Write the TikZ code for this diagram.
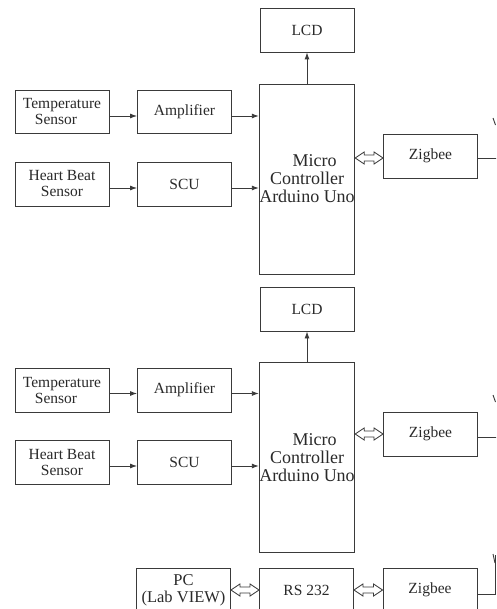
\documentclass[tikz,border=0pt]{standalone}
\usepackage{fontspec}
\setmainfont{Liberation Serif}
\usetikzlibrary{calc,arrows.meta}
\definecolor{ln}{HTML}{3A3A3A}
\definecolor{tx}{HTML}{2A2A2A}
\newcommand{\dblfat}[2]{%
  \draw[fatarr] (#1) -- ($(#1)+(9,-6)$) -- ($(#1)+(9,-3)$) -- ($(#2)+(-9,-3)$) -- ($(#2)+(-9,-6)$) -- (#2)
   -- ($(#2)+(-9,6)$) -- ($(#2)+(-9,3)$) -- ($(#1)+(9,3)$) -- ($(#1)+(9,6)$) -- cycle;}
\tikzset{
  blk/.style={draw=ln, line width=0.9pt, minimum width=94pt, minimum height=44pt, inner sep=0pt,
    align=center, text=tx, font=\fontsize{15.5}{16}\selectfont},
  mcblk/.style={blk, minimum height=190pt, font=\fontsize{18}{18}\selectfont},
  conn/.style={draw=ln, line width=0.9pt, -{Latex[length=7pt,width=5pt]}},
  wire/.style={draw=ln, line width=0.9pt},
  fatarr/.style={draw=ln, line width=0.8pt, fill=white, line join=miter},
}
\begin{document}
\begin{tikzpicture}[x=1pt,y=-1pt]
\useasboundingbox (0,0) rectangle (496,609);
\clip (0,0) rectangle (496,609);
\fill[white] (0,0) rectangle (496,609);
% ---------- block 1 ----------
\node[blk] (lcd1) at (307,30) {LCD};
\node[mcblk] (mc1) at (307,179) {\hspace*{15pt}Micro\\Controller\\Arduino Uno};
\node[blk, minimum height=43pt] (temp1) at (62,111.5) {Temperature\\Sensor\hspace*{12pt}};
\node[blk, minimum height=43pt] (amp1) at (184.5,111.5) {Amplifier};
\node[blk] (heart1) at (62,184) {Heart Beat\\Sensor};
\node[blk] (scu1) at (184.5,184) {SCU};
\node[blk] (zig1) at (430.5,156) {Zigbee};
\draw[conn] ([yshift=-4.5pt]temp1.east) -- ([yshift=-4.5pt]amp1.west);
\draw[conn] ([yshift=-4.5pt]amp1.east) -- (mc1.west |- {0,116});
\draw[conn] ([yshift=-4pt]heart1.east) -- ([yshift=-4pt]scu1.west);
\draw[conn] ([yshift=-4pt]scu1.east) -- (mc1.west |- {0,188});
\draw[conn] (mc1.north) -- (lcd1.south);
\path (mc1.east |- zig1.west) ++(0,2) coordinate (d1l);
\path (zig1.west) ++(0,2) coordinate (d1r);
\dblfat{d1l}{d1r}
\path (zig1.east) ++(0,2) coordinate (w1a);
\coordinate (w1b) at (497,158);
\draw[wire] (w1a) -- (w1b);
\coordinate (a1a) at (493,118);
\coordinate (a1b) at (495.5,125);
\draw[wire] (a1a) -- (a1b);
% ---------- block 2 ----------
\node[blk] (lcd2) at (307,309) {LCD};
\node[mcblk] (mc2) at (307,457.5) {\hspace*{15pt}Micro\\Controller\\Arduino Uno};
\node[blk] (temp2) at (62,390) {Temperature\\Sensor\hspace*{12pt}};
\node[blk] (amp2) at (184.5,390) {Amplifier};
\node[blk] (heart2) at (62,462) {Heart Beat\\Sensor};
\node[blk] (scu2) at (184.5,462) {SCU};
\node[blk] (zig2) at (430.5,434) {Zigbee};
\draw[conn] ([yshift=-3.5pt]temp2.east) -- ([yshift=-3.5pt]amp2.west);
\draw[conn] ([yshift=-3.5pt]amp2.east) -- (mc2.west |- {0,393.5});
\draw[conn] ([yshift=-4pt]heart2.east) -- ([yshift=-4pt]scu2.west);
\draw[conn] ([yshift=-4pt]scu2.east) -- (mc2.west |- {0,466});
\draw[conn] (mc2.north) -- (lcd2.south);
\path (mc2.east |- zig2.west) ++(0,0) coordinate (d2l);
\path (zig2.west) ++(0,0) coordinate (d2r);
\dblfat{d2l}{d2r}
\path (zig2.east) ++(0,3) coordinate (w2a);
\coordinate (w2b) at (497,437);
\draw[wire] (w2a) -- (w2b);
\coordinate (a2a) at (493,395);
\coordinate (a2b) at (495.5,402);
\draw[wire] (a2a) -- (a2b);
% ---------- bottom row ----------
\node[blk, font=\fontsize{16.5}{17}\selectfont] (pc) at (183.5,590) {PC\\(Lab VIEW)};
\node[blk] (rs) at (306.5,590) {RS 232};
\node[blk] (zig3) at (430,590) {Zigbee};
\dblfat{pc.east}{rs.west}
\dblfat{rs.east}{zig3.west}
\path (zig3.east) ++(0,4) coordinate (w3a);
\coordinate (w3b) at (495,594);
\coordinate (w3c) at (495,555);
\draw[wire] (w3a) -- (w3b) -- (w3c);
\coordinate (a3a) at (493,554);
\coordinate (a3b) at (495,563);
\draw[wire] (a3a) -- (a3b);
\end{tikzpicture}
\end{document}
